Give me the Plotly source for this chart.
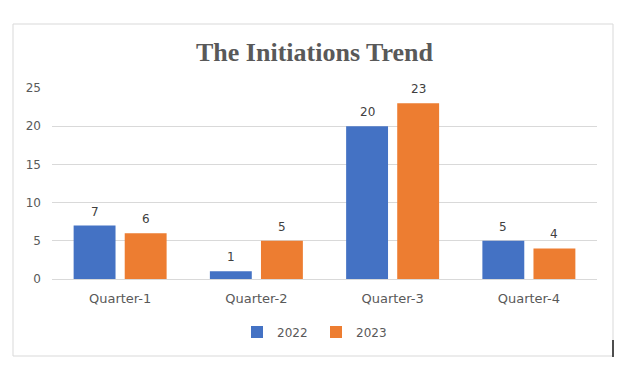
import plotly.graph_objects as go

categories = ["Quarter-1", "Quarter-2", "Quarter-3", "Quarter-4"]
series_names = ["2022", "2023"]
values_2022 = [7, 1, 20, 5]
values_2023 = [6, 5, 23, 4]
y_ticks = [0, 5, 10, 15, 20, 25]

# page body has an 8px margin; work in window pixels and convert
O = 8
W, H = 625 - O, 372 - O
L, R, T, B = 52 - O, 28, 88 - O, 93
PW, PH = W - L - R, H - T - B

def px(x):
    return (x - O - L) / PW

def py(y):
    return (H - B - (y - O)) / PH

colors = ["#4472C4", "#ED7D31"]

fig = go.Figure()
for name, vals, col in zip(series_names, [values_2022, values_2023], colors):
    fig.add_trace(go.Bar(
        x=categories, y=vals, name=name,
        marker=dict(color=col, line=dict(width=0)),
    ))

# data labels
for vals, shift in zip([values_2022, values_2023], [-25.5, 25.5]):
    for c, v in zip(categories, vals):
        fig.add_annotation(
            x=c, y=v, text=str(v), showarrow=False,
            xshift=shift, yshift=5, yanchor="bottom",
            font=dict(family="DejaVu Sans", size=12, color="#404040"),
        )

# chart frame
fig.add_shape(type="rect", xref="paper", yref="paper",
              x0=px(13), x1=px(613), y0=py(356), y1=py(24),
              line=dict(color="#D9D9D9", width=1), layer="below")
fig.add_shape(type="line", xref="paper", yref="paper",
              x0=px(613), x1=px(613), y0=py(357), y1=py(340),
              line=dict(color="#1a1a1a", width=1.5))

fig.update_layout(
    width=W, height=H,
    margin=dict(l=L, r=R, t=T, b=B),
    paper_bgcolor="white", plot_bgcolor="white",
    barmode="group", bargap=0.25, bargroupgap=0.18,
    title=dict(text="<b>The Initiations Trend</b>", x=(314.5 - O) / W, xref="container",
               xanchor="center", y=1 - (52 - O) / H, yref="container", yanchor="middle",
               font=dict(family="Liberation Serif", size=26, color="#595959")),
    legend=dict(orientation="h", x=px(316), xanchor="center", y=py(332), yanchor="middle",
                font=dict(family="DejaVu Sans", size=12, color="#595959"),
                itemwidth=30, entrywidth=34, bgcolor="rgba(0,0,0,0)"),
    showlegend=True,
)
fig.update_xaxes(
    showline=True, linecolor="#D9D9D9", linewidth=1,
    tickfont=dict(family="DejaVu Sans", size=13, color="#595959"),
    ticks="", showgrid=False, ticklabelstandoff=7,
)
fig.update_yaxes(
    range=[0, 25], tickvals=y_ticks, showgrid=True, gridcolor="#D9D9D9", gridwidth=1,
    zeroline=False, showline=False, ticks="",
    tickfont=dict(family="DejaVu Sans", size=12, color="#595959"),
    ticklabelstandoff=10,
)

fig.write_html("out.html")
